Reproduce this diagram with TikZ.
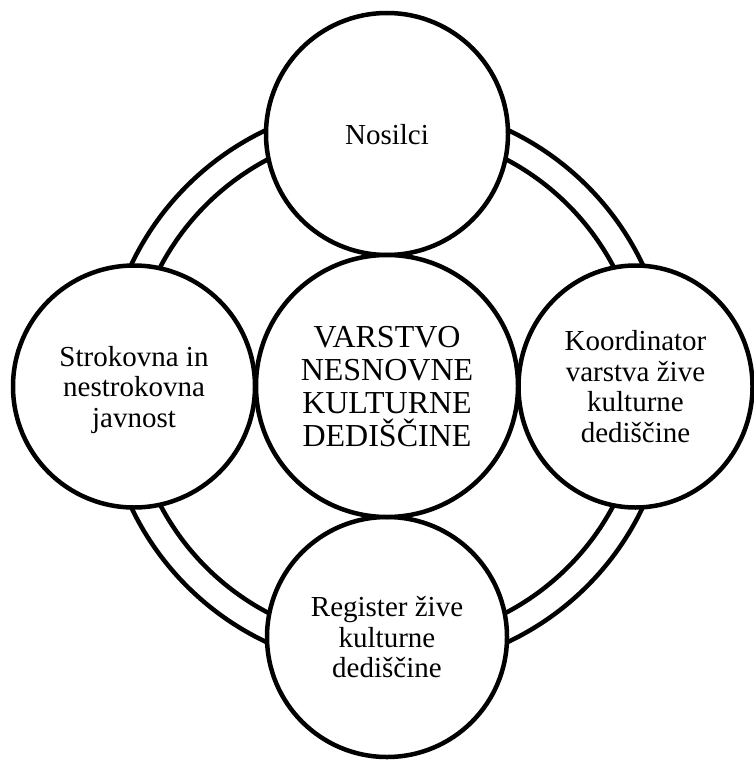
\documentclass[tikz,border=0pt]{standalone}
\usepackage{fontspec}
\setmainfont{Liberation Serif}
\usetikzlibrary{shapes.geometric}
\tikzset{
  ringline/.style={line width=4.5pt, draw=black},
  bubble/.style={circle, draw=black, fill=white, line width=4.5pt, inner sep=0pt, align=center,
    text depth=0pt, font=\fontsize{29}{30.5}\selectfont},
  centerbubble/.style={bubble, font=\fontsize{32}{33}\selectfont},
}
\begin{document}
\begin{tikzpicture}[x=1pt, y=-1pt]
\useasboundingbox (0,0) rectangle (754,760);
\coordinate (ringc) at (387,386);
\draw[ringline] (ringc) circle (283);
\draw[ringline] (ringc) circle (256);
\node[bubble, minimum size=242pt] (top) at (387,134) {Nosilci};
\node[bubble, minimum size=242pt] (left) at (134,386.5) {Strokovna in\\nestrokovna\\javnost};
\node[bubble, ellipse, minimum width=234pt, minimum height=242pt] (right) at (635.5,386.5) {Koordinator\\varstva žive\\kulturne\\dediščine};
\node[bubble, minimum size=240pt] (bottom) at (387,637) {Register žive\\kulturne\\dediščine};
\node[centerbubble, minimum size=262pt] (center) at (387,386) {VARSTVO\\NESNOVNE\\KULTURNE\\DEDIŠČINE};
\end{tikzpicture}
\end{document}
